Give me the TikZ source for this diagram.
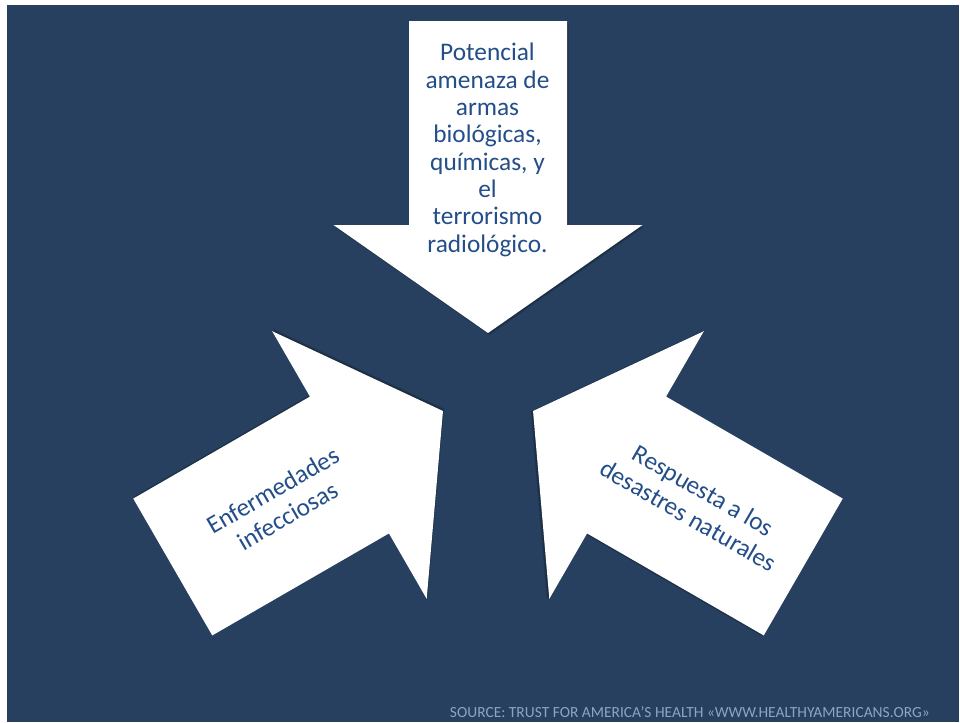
\documentclass[tikz,border=0pt]{standalone}
\usepackage{fontspec}
\setmainfont{Carlito}
\definecolor{bgblue}{RGB}{39,64,95}
\definecolor{txtblue}{RGB}{35,78,138}
\definecolor{srcblue}{RGB}{140,165,195}
\begin{document}
\begin{tikzpicture}[x=0.75pt,y=-0.75pt,
  arrowshape/.style={fill=white},
  shadowshape/.style={fill=black,fill opacity=0.18},
  arrowtext/.style={text=txtblue,font=\fontsize{19}{20.5}\selectfont,align=center,inner sep=0pt},
  rottext/.style={arrowtext,font=\fontsize{19}{22}\selectfont},
  srctext/.style={text=srcblue,font=\fontsize{11.6}{13}\selectfont,inner sep=0pt}]
\useasboundingbox (0,0) rectangle (960,722);
\fill[white] (0,0) rectangle (960,722);
\fill[bgblue] (7,5) rectangle (959,722);
\coordinate (C) at (488,385);
% arrow outline relative to C, pointing down
\def\arrowpath{++(-79,-364) -- ++(158,0) -- ++(0,204) -- ++(75.5,0) -- ++(-154.5,108) -- ++(-154.5,-108) -- ++(75.5,0) -- cycle}
\foreach \ang/\nm in {0/down,120/left,-120/right}{
  \begin{scope}[rotate around={\ang:(C)}]
    \fill[shadowshape] ([shift={(1.5,2)}]C) \arrowpath;
    \fill[shadowshape,fill opacity=0.12] ([shift={(0.8,1)}]C) \arrowpath;
    \fill[arrowshape] (C) \arrowpath;
  \end{scope}
}
\node[arrowtext,anchor=north] (tdown) at (487.5,43) {Potencial\\amenaza de\\armas\\biológicas,\\químicas, y\\el\\terrorismo\\radiológico.};
\node[rottext,rotate=30] (tleft) at (280,503) {Enfermedades\\infecciosas};
\node[rottext,rotate=-30] (tright) at (696,503) {Respuesta a los\\desastres naturales};
\node[srctext,anchor=base east] (src) at (930,717) {SOURCE: TRUST FOR AMERICA’S HEALTH «WWW.HEALTHYAMERICANS.ORG»};
\end{tikzpicture}
\end{document}
